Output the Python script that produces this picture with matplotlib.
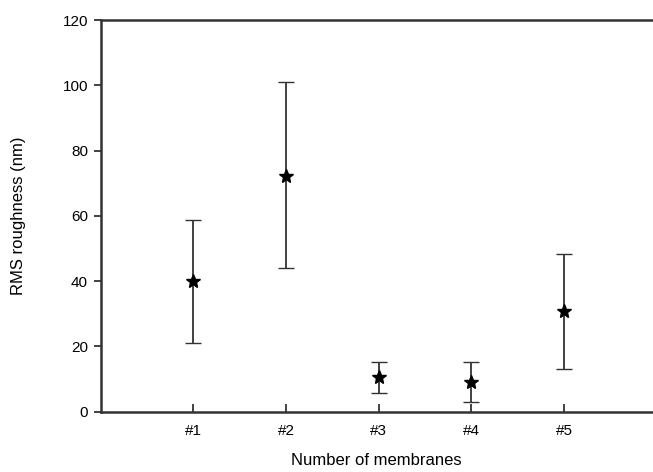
import matplotlib
matplotlib.use("Agg")
import matplotlib.pyplot as plt
import numpy as np

plt.rcParams['font.family'] = ['Liberation Sans', 'DejaVu Sans']

categories = ["#1", "#2", "#3", "#4", "#5"]
means = [40.0, 72.3, 10.5, 9.2, 30.9]
upper = [58.6, 100.9, 15.2, 15.2, 48.4]
lower = [21.1, 44.1, 5.7, 2.9, 13.0]

x = np.arange(1, len(categories) + 1)
m = np.array(means)
yerr = [m - np.array(lower), np.array(upper) - m]

fig = plt.figure(figsize=(6.53, 4.72), dpi=100)
ax = fig.add_axes([100.5 / 653, 1 - 411.7 / 472, 1 - 100.5 / 653, (411.7 - 20) / 472])

lc = '#333333'
ax.errorbar(x, m, yerr=yerr, fmt='*', color='black', markersize=10,
            markeredgewidth=1.0, ecolor=lc, elinewidth=1.3, capsize=6,
            capthick=1.3, zorder=3)

ax.set_xlim(0, (653 - 100.5) / 92.75)
ax.set_ylim(0, 120)
ax.set_xticks(x)
ax.set_xticklabels(categories)
ax.set_yticks(np.arange(0, 121, 20))

for s in ['left', 'bottom', 'top']:
    ax.spines[s].set_linewidth(1.8)
    ax.spines[s].set_color(lc)
ax.spines['right'].set_visible(False)

ax.tick_params(axis='y', direction='out', length=5, width=1.3, color=lc, labelsize=11, pad=4)
ax.tick_params(axis='x', direction='in', length=6, width=1.3, color=lc, labelsize=11, pad=9)

ax.set_xlabel("Number of membranes", fontsize=12, labelpad=11)
ax.set_ylabel("RMS roughness (nm)", fontsize=12, labelpad=26)

fig.savefig("out.png", dpi=100)
